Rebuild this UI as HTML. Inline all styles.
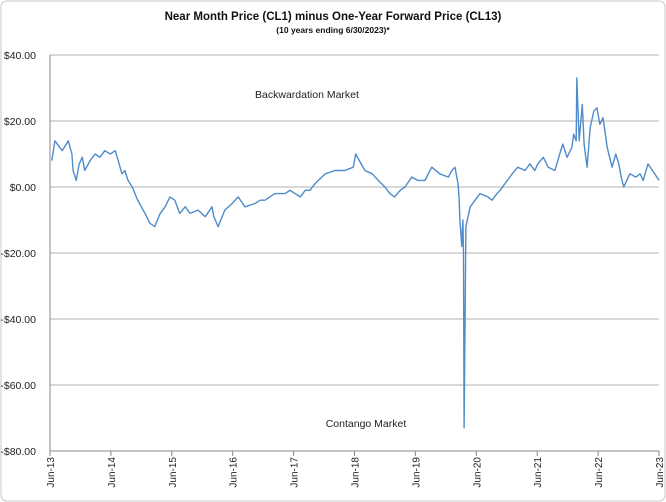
<!DOCTYPE html>
<html><head><meta charset="utf-8"><style>
body{margin:0;background:#fff;}
svg{display:block;font-family:"Liberation Sans",sans-serif;}
</style></head><body>
<svg id="chart" width="666" height="502">
<rect x="1" y="1" width="664" height="500" rx="6" fill="#fff" stroke="#c8c8c8"/>
<text x="333" y="20" text-anchor="middle" font-size="11.5" font-weight="bold" fill="#111">Near Month Price (CL1) minus One-Year Forward Price (CL13)</text>
<text x="333" y="33" text-anchor="middle" font-size="8.5" font-weight="bold" fill="#111">(10 years ending  6/30/2023)*</text>
<g id="grid"></g><g id="axes"></g><g id="series"></g>
<text x="307" y="98" text-anchor="middle" font-size="10.5" fill="#222">Backwardation Market</text>
<text x="366" y="427" text-anchor="middle" font-size="10.5" fill="#222">Contango Market</text>
</svg>
<script>
const yTicks=[40,20,0,-20,-40,-60,-80];
const yTickLabels=["$40.00","$20.00","$0.00","-$20.00","-$40.00","-$60.00","-$80.00"];
const xTickLabels=["Jun-13","Jun-14","Jun-15","Jun-16","Jun-17","Jun-18","Jun-19","Jun-20","Jun-21","Jun-22","Jun-23"];
const yearsSinceJun13=[0.03,0.08,0.20,0.30,0.36,0.38,0.43,0.48,0.53,0.57,0.66,0.74,0.82,0.90,0.99,1.07,1.12,1.18,1.23,1.28,1.35,1.44,1.56,1.64,1.72,1.81,1.89,1.97,2.05,2.13,2.22,2.30,2.43,2.55,2.66,2.69,2.76,2.87,2.99,3.09,3.20,3.37,3.45,3.53,3.69,3.86,3.94,4.11,4.19,4.27,4.35,4.52,4.68,4.84,4.98,5.02,5.17,5.29,5.39,5.50,5.58,5.66,5.75,5.83,5.94,6.04,6.16,6.21,6.27,6.40,6.54,6.60,6.65,6.70,6.72,6.73,6.75,6.76,6.78,6.79,6.80,6.83,6.90,6.98,7.06,7.19,7.26,7.34,7.39,7.47,7.59,7.68,7.80,7.88,7.96,8.01,8.10,8.18,8.29,8.37,8.42,8.49,8.57,8.60,8.64,8.65,8.69,8.74,8.77,8.82,8.87,8.93,8.98,9.03,9.08,9.15,9.23,9.29,9.34,9.38,9.42,9.52,9.62,9.69,9.74,9.82,9.93,10.00];
const spread=[8,14,11,14,10,5,2,7,9,5,8,10,9,11,10,11,8,4,5,2,0,-4,-8,-11,-12,-8,-6,-3,-4,-8,-6,-8,-7,-9,-6,-9,-12,-7,-5,-3,-6,-5,-4,-4,-2,-2,-1,-3,-1,-1,1,4,5,5,6,10,5,4,2,0,-2,-3,-1,0,3,2,2,4,6,4,3,5,6,1,-4,-10,-15,-18,-10,-20,-73,-12,-6,-4,-2,-3,-4,-2,-1,1,4,6,5,7,5,7,9,6,5,10,13,9,12,16,14,33,14,25,13,6,18,23,24,19,21,12,6,10,7,3,0,4,3,4,2,7,4,2,1];
const L=50,R=659,T=55,B=451,NS="http://www.w3.org/2000/svg";
const yS=v=>T+(40-v)*(B-T)/120;
const xS=t=>L+t*(R-L)/10;
function mk(tag,attrs,parent){const e=document.createElementNS(NS,tag);for(const k in attrs)e.setAttribute(k,attrs[k]);parent.appendChild(e);return e;}
const grid=document.getElementById('grid'),axes=document.getElementById('axes'),series=document.getElementById('series');
yTicks.forEach((v,i)=>{
  if(v!==-80){const g=mk('line',{x1:L,x2:R,y1:yS(v),y2:yS(v),stroke:'#b0b0b0','stroke-width':1},grid);
  
  }
  const t=mk('text',{x:L-14,y:yS(v)+4,'text-anchor':'end','font-size':10.5,fill:'#222'},axes);
  t.textContent=yTickLabels[i];
  
  
});
const ya=mk('line',{x1:L,x2:L,y1:T,y2:B,stroke:'#888'},axes);


const xa=mk('line',{x1:L,x2:R,y1:B,y2:B,stroke:'#888'},axes);


xTickLabels.forEach((s,i)=>{
  const x=xS(i);
  const tk=mk('line',{x1:x,x2:x,y1:B,y2:B+5,stroke:'#888'},axes);
  
  
  const t=mk('text',{x:0,y:0,'text-anchor':'end','font-size':10,fill:'#222',transform:`translate(${x+4},${B+6}) rotate(-90)`},axes);
  t.textContent=s;
  
  
});
const d=yearsSinceJun13.map((t,i)=>(i?'L':'M')+xS(t).toFixed(1)+','+yS(spread[i]).toFixed(1)).join('');
const p=mk('path',{d:d,fill:'none',stroke:'#4f8cc9','stroke-width':1.4,'stroke-linejoin':'round'},series);


</script>
</body></html>
